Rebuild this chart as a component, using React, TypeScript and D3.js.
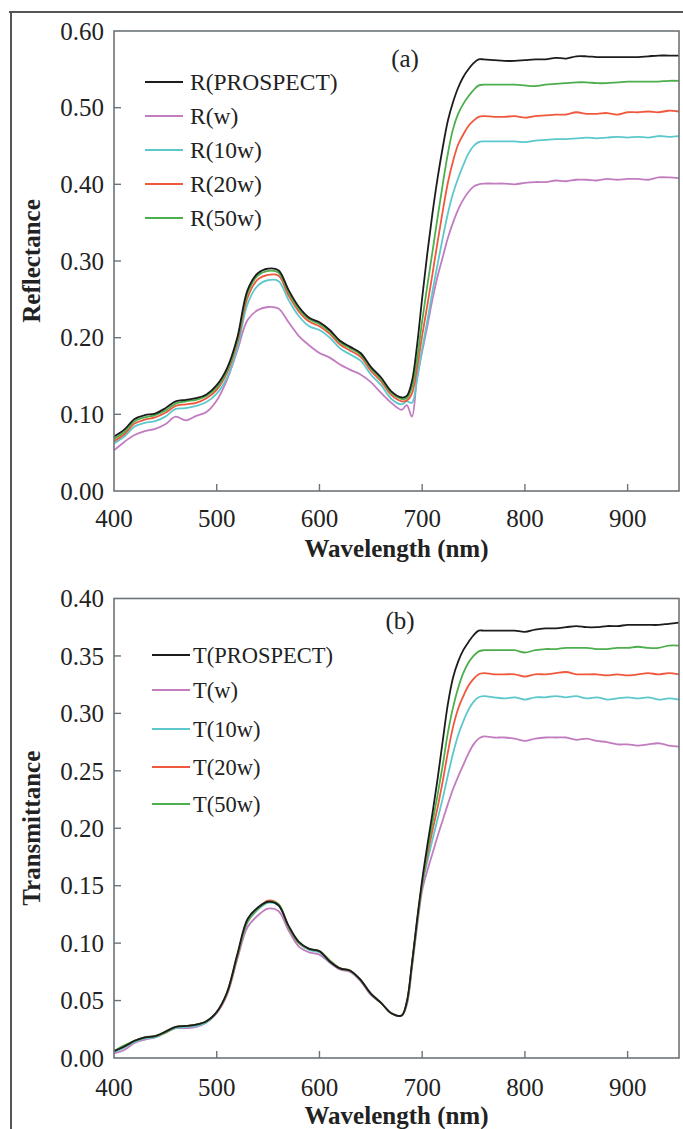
import React from "react";
import * as d3 from "d3";

const wavelengths = [
  400, 410, 420, 430, 440, 450, 460, 470, 480, 490, 500, 510, 520, 530, 540, 550, 560, 570, 580, 590,
  600, 610, 620, 630, 640, 650, 660, 670, 680, 685, 690, 695, 700, 705, 710, 715, 720, 725, 730, 735,
  740, 745, 750, 755, 760, 770, 780, 790, 800, 810, 820, 830, 840, 850, 860, 870, 880, 890, 900, 910,
  920, 930, 940, 950,
];

// Panel (a) reflectance
const rProspect = [
  .071, .080, .094, .099, .101, .108, .117, .119, .121, .126, .138, .160, .200, .262, .284, .290, .288, .262, .240, .226,
  .220, .210, .196, .188, .180, .162, .148, .130, .122, .124, .143, .190, .252, .310, .362, .408, .448, .483, .507, .526,
  .540, .550, .558, .563, .563, .562, .561, .561, .562, .563, .563, .565, .564, .567, .567, .566, .566, .566, .566, .566,
  .567, .568, .568, .568,
];
const rW = [
  .053, .064, .073, .078, .081, .087, .097, .092, .098, .103, .118, .145, .183, .223, .236, .240, .238, .220, .202, .190,
  .180, .174, .165, .158, .152, .142, .128, .115, .106, .112, .097, .148, .182, .215, .250, .280, .305, .330, .350, .367,
  .380, .390, .397, .400, .401, .401, .401, .400, .402, .403, .403, .405, .404, .406, .406, .405, .407, .406, .407, .407,
  .406, .409, .409, .408,
];
const r10w = [
  .062, .071, .084, .089, .091, .097, .107, .108, .111, .116, .127, .148, .186, .244, .268, .275, .274, .249, .228, .215,
  .210, .200, .186, .178, .170, .152, .138, .120, .113, .117, .115, .145, .185, .222, .260, .296, .330, .362, .388, .408,
  .425, .440, .450, .455, .456, .456, .456, .456, .455, .457, .458, .459, .459, .460, .461, .460, .461, .462, .461, .462,
  .461, .463, .462, .463,
];
const r20w = [
  .065, .074, .088, .093, .096, .102, .111, .113, .115, .121, .132, .154, .193, .252, .276, .282, .281, .255, .234, .221,
  .215, .205, .191, .183, .175, .157, .143, .125, .117, .118, .127, .160, .203, .242, .283, .325, .365, .402, .430, .452,
  .465, .476, .483, .488, .489, .488, .488, .489, .487, .489, .490, .491, .491, .494, .492, .492, .493, .491, .494, .494,
  .495, .494, .496, .495,
];
const r50w = [
  .068, .077, .091, .096, .099, .105, .114, .117, .119, .124, .135, .157, .197, .258, .281, .287, .285, .259, .237, .224,
  .218, .208, .194, .186, .178, .160, .146, .128, .120, .121, .135, .172, .222, .268, .312, .357, .400, .440, .472, .492,
  .505, .515, .523, .529, .530, .530, .530, .530, .529, .528, .530, .531, .532, .533, .533, .532, .532, .533, .534, .534,
  .534, .534, .535, .535,
];

// Panel (b) transmittance
const tProspect = [
  .006, .010, .015, .018, .019, .023, .027, .028, .029, .032, .040, .057, .090, .121, .131, .136, .133, .115, .101, .095,
  .093, .084, .078, .076, .068, .056, .048, .039, .037, .049, .082, .120, .155, .185, .213, .243, .276, .308, .331, .345,
  .355, .362, .368, .372, .372, .372, .372, .372, .371, .373, .374, .374, .375, .376, .375, .375, .376, .376, .377, .377,
  .377, .377, .378, .379,
];
const tW = [
  .004, .007, .013, .016, .018, .022, .026, .026, .027, .031, .039, .055, .086, .114, .124, .130, .128, .111, .097, .092,
  .090, .083, .077, .075, .067, .055, .048, .039, .037, .046, .078, .114, .146, .163, .178, .193, .207, .221, .234, .245,
  .255, .265, .273, .278, .280, .279, .279, .278, .276, .278, .279, .279, .279, .277, .278, .276, .275, .273, .273, .272,
  .273, .274, .272, .271,
];
const t10w = [
  .005, .009, .014, .017, .018, .022, .026, .027, .028, .031, .040, .056, .088, .118, .129, .135, .133, .114, .100, .094,
  .092, .084, .078, .076, .068, .056, .048, .039, .037, .048, .080, .117, .150, .171, .190, .208, .226, .246, .265, .281,
  .293, .303, .310, .314, .315, .314, .313, .314, .312, .314, .314, .315, .314, .315, .313, .314, .312, .313, .314, .313,
  .314, .312, .313, .312,
];
const t20w = [
  .006, .010, .015, .018, .019, .022, .027, .028, .029, .032, .040, .056, .088, .119, .130, .137, .134, .114, .100, .095,
  .093, .085, .078, .076, .068, .056, .048, .039, .037, .048, .081, .118, .151, .176, .198, .218, .241, .266, .288, .304,
  .315, .324, .330, .334, .335, .334, .334, .334, .332, .334, .334, .335, .336, .334, .334, .334, .333, .334, .333, .334,
  .335, .334, .335, .334,
];
const t50w = [
  .006, .011, .015, .018, .019, .022, .027, .028, .029, .032, .040, .057, .089, .119, .130, .136, .134, .114, .100, .095,
  .093, .085, .078, .076, .068, .056, .048, .039, .037, .048, .081, .119, .152, .180, .205, .229, .255, .283, .305, .322,
  .335, .344, .350, .354, .355, .355, .355, .355, .353, .355, .356, .356, .357, .357, .357, .356, .356, .357, .357, .358,
  .357, .357, .359, .359,
];

const xTicks = [400, 500, 600, 700, 800, 900];
const yTicksA = [0, 0.1, 0.2, 0.3, 0.4, 0.5, 0.6];
const yTicksB = [0, 0.05, 0.1, 0.15, 0.2, 0.25, 0.3, 0.35, 0.4];

const colors = ["#1c1c1c", "#c27cc0", "#5cc8cc", "#f0583e", "#4caf4c"];
const labelsA = ["R(PROSPECT)", "R(w)", "R(10w)", "R(20w)", "R(50w)"];
const labelsB = ["T(PROSPECT)", "T(w)", "T(10w)", "T(20w)", "T(50w)"];

const SERIF = "'Liberation Serif', 'Times New Roman', serif";
const AXIS = "#6c7479";

type PanelProps = {
  top: number;
  bottom: number;
  yMax: number;
  yTicks: number[];
  series: number[][];
  labels: string[];
  yTitle: string;
  tag: string;
  tagPos: [number, number];
  legendX: [number, number, number];
  legendY: number[];
  legendSize: number;
  xLabelY: number;
  xTitleY: number;
};

function Panel(p: PanelProps) {
  const x = d3.scaleLinear().domain([400, 950]).range([114, 679]);
  const y = d3.scaleLinear().domain([0, p.yMax]).range([p.bottom, p.top]);
  const line = d3
    .line<number>()
    .x((_, i) => x(wavelengths[i]))
    .y((d) => y(d))
    .curve(d3.curveCatmullRom.alpha(0.5));
  const order = [1, 2, 3, 4, 0];
  return (
    <g>
      {order.map((k) => (
        <path key={k} d={line(p.series[k]) || ""} fill="none" stroke={colors[k]} strokeWidth={1.8} />
      ))}
      <rect x={114} y={p.top} width={565} height={p.bottom - p.top} fill="none" stroke={AXIS} strokeWidth={1.6} />
      {xTicks.map((t) => (
        <g key={t}>
          {t > 400 && <line x1={x(t)} x2={x(t)} y1={p.bottom} y2={p.bottom - 7} stroke={AXIS} strokeWidth={1.4} />}
          <text x={x(t)} y={p.xLabelY} textAnchor="middle" fontFamily={SERIF} fontSize={25} fill="#222">
            {t}
          </text>
        </g>
      ))}
      {p.yTicks.map((t) => (
        <g key={t}>
          {t > 0 && t < p.yMax && (
            <line x1={114} x2={121} y1={y(t)} y2={y(t)} stroke={AXIS} strokeWidth={1.4} />
          )}
          <text x={104} y={y(t)} dy="0.35em" textAnchor="end" fontFamily={SERIF} fontSize={25} fill="#222">
            {t.toFixed(2)}
          </text>
        </g>
      ))}
      <text
        transform={`translate(40,${(p.top + p.bottom) / 2}) rotate(-90)`}
        textAnchor="middle"
        fontFamily={SERIF}
        fontWeight="bold"
        fontSize={25}
        fill="#222"
      >
        {p.yTitle}
      </text>
      <text x={396.5} y={p.xTitleY} textAnchor="middle" fontFamily={SERIF} fontWeight="bold" fontSize={25} fill="#222">
        Wavelength (nm)
      </text>
      <text x={p.tagPos[0]} y={p.tagPos[1]} dy="0.35em" textAnchor="middle" fontFamily={SERIF} fontSize={25} fill="#222">
        {p.tag}
      </text>
      {p.labels.map((l, i) => (
        <g key={l}>
          <line
            x1={p.legendX[0]}
            x2={p.legendX[1]}
            y1={p.legendY[i]}
            y2={p.legendY[i]}
            stroke={colors[i]}
            strokeWidth={2}
          />
          <text
            x={p.legendX[2]}
            y={p.legendY[i]}
            dy="0.35em"
            fontFamily={SERIF}
            fontSize={p.legendSize}
            fill="#222"
          >
            {l}
          </text>
        </g>
      ))}
    </g>
  );
}

export default function App() {
  return (
    <svg
      width={683}
      height={1129}
      style={{ position: "absolute", left: 0, top: 0, background: "#fff" }}
    >
      <rect x={0} y={0} width={683} height={1129} fill="#fff" />
      <line x1={9} x2={683} y1={12} y2={12} stroke="#555" strokeWidth={2} />
      <line x1={11} x2={11} y1={12} y2={1129} stroke="#555" strokeWidth={2} />
      <Panel
        top={31}
        bottom={491}
        yMax={0.6}
        yTicks={yTicksA}
        series={[rProspect, rW, r10w, r20w, r50w]}
        labels={labelsA}
        yTitle="Reflectance"
        tag="(a)"
        tagPos={[405, 58]}
        legendX={[145, 183, 190]}
        legendY={[82, 116, 150, 184, 218]}
        legendSize={23.5}
        xLabelY={527}
        xTitleY={557}
      />
      <Panel
        top={598.5}
        bottom={1058}
        yMax={0.4}
        yTicks={yTicksB}
        series={[tProspect, tW, t10w, t20w, t50w]}
        labels={labelsB}
        yTitle="Transmittance"
        tag="(b)"
        tagPos={[400, 620]}
        legendX={[152, 190, 193]}
        legendY={[655, 690, 729, 767, 804]}
        legendSize={22.5}
        xLabelY={1096}
        xTitleY={1124}
      />
    </svg>
  );
}
